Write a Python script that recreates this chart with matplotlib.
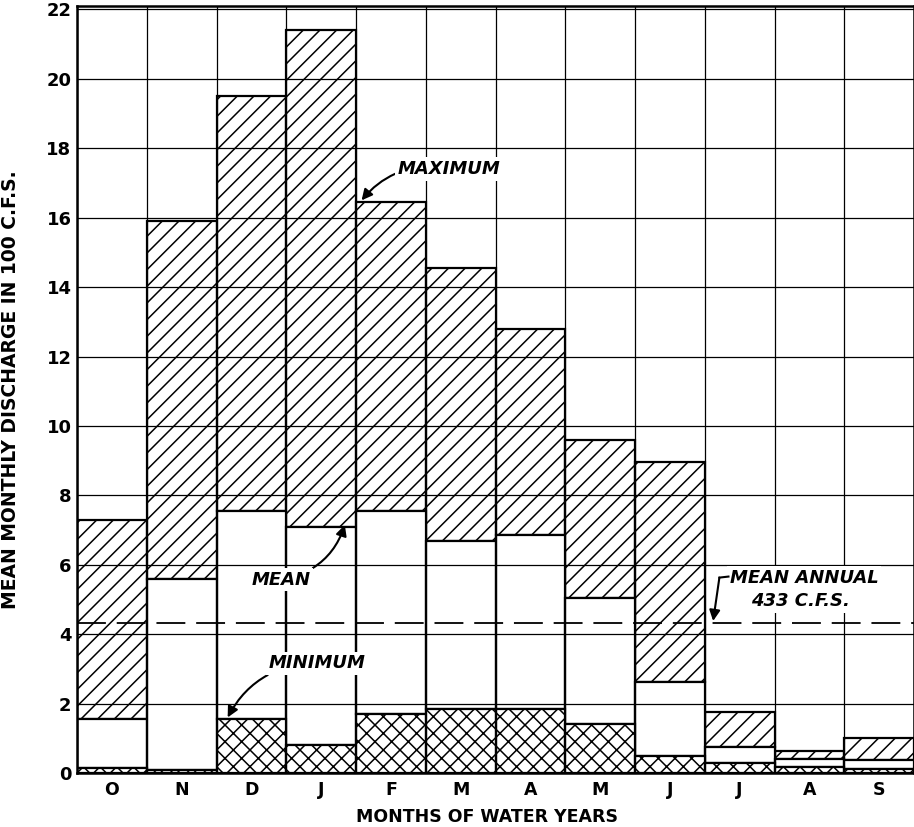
import numpy as np
import matplotlib
matplotlib.use("Agg")
import matplotlib.pyplot as plt

months = ["O", "N", "D", "J", "F", "M", "A", "M", "J", "J", "A", "S"]
max_flow = [7.3, 15.9, 19.5, 21.4, 16.45, 14.55, 12.8, 9.6, 8.95, 1.75, 0.62, 1.02]
mean_flow = [1.55, 5.6, 7.55, 7.1, 7.55, 6.68, 6.85, 5.05, 2.62, 0.75, 0.4, 0.38]
min_flow = [0.15, 0.1, 1.55, 0.8, 1.7, 1.85, 1.85, 1.42, 0.5, 0.28, 0.18, 0.12]
mean_annual = 4.33

plt.rcParams['hatch.linewidth'] = 1.1
plt.rcParams['font.family'] = ['DejaVu Sans']

fig = plt.figure(figsize=(9.14, 8.27), dpi=100)
ax = fig.add_axes([77/914, 1-773/827, 1-77/914, (773-6)/827])

x = np.arange(len(months)) + 0.5
mx = np.array(max_flow)
mn = np.array(mean_flow)
lo = np.array(min_flow)

# maximum part (mean -> max), hatched
ax.bar(x, mx - mn, bottom=mn, width=1.0, facecolor='white', edgecolor='black',
       hatch='//', linewidth=1.6, zorder=2)
# mean part (min -> mean), plain
ax.bar(x, mn - lo, bottom=lo, width=1.0, facecolor='white', edgecolor='black',
       linewidth=1.6, zorder=2)
# minimum part, cross hatched
ax.bar(x, lo, width=1.0, facecolor='white', edgecolor='black',
       hatch='xx', linewidth=1.6, zorder=2)

ax.axhline(mean_annual, color='black', lw=1.3, dashes=(16, 6), zorder=4)

ax.set_xlim(0, 12)
ax.set_ylim(0, 22.1)
ax.set_xticks(np.arange(13), minor=False)
ax.set_xticks(x, minor=True)
ax.set_xticklabels([])
ax.set_xticklabels(months, minor=True, fontweight='bold')
ax.set_yticks(range(0, 23, 2))
ax.set_yticklabels([str(v) for v in range(0, 23, 2)], fontweight='bold')
ax.tick_params(axis='both', which='both', length=0, labelsize=13)
ax.tick_params(axis='x', which='minor', pad=6, labelsize=12.5)
ax.tick_params(axis='y', pad=4)
ax.grid(True, which='major', color='black', lw=0.9)
ax.set_axisbelow(False)
for s in ax.spines.values():
    s.set_linewidth(1.8)

ax.set_ylabel('MEAN MONTHLY DISCHARGE IN 100 C.F.S.', fontsize=13.5, fontweight='bold')
ax.yaxis.set_label_coords(-0.068, 0.5)
ax.set_xlabel('MONTHS OF WATER YEARS', fontsize=12.5, fontweight='bold', va='center')
ax.xaxis.set_label_coords(0.49, -0.057)

lab = dict(fontsize=13, fontstyle='italic', fontweight='bold', va='center', zorder=5,
           bbox=dict(facecolor='white', edgecolor='none', pad=2))
arw = dict(arrowstyle='-|>', color='black', lw=1.5, mutation_scale=16,
           connectionstyle='arc3,rad=0.3', shrinkA=0, shrinkB=0)

ax.annotate('MAXIMUM', xy=(4.08, 16.5), xytext=(4.6, 17.4), ha='left',
            arrowprops=arw, **lab)
ax.annotate('MEAN', xy=(3.84, 7.15), xytext=(3.35, 5.57), ha='right',
            arrowprops=arw, **lab)
ax.annotate('MINIMUM', xy=(2.16, 1.6), xytext=(2.75, 3.16), ha='left',
            arrowprops=arw, **lab)

ax.text(9.36, 5.63, 'MEAN ANNUAL', ha='left', **lab)
ax.text(9.67, 4.95, '433 C.F.S.', ha='left', **lab)
ax.plot([9.21, 9.34], [5.63, 5.66], color='black', lw=1.5, zorder=6)
ax.annotate('', xy=(9.12, 4.38), xytext=(9.21, 5.63),
            arrowprops=dict(arrowstyle='-|>', color='black', lw=1.5,
                            mutation_scale=16, shrinkA=0, shrinkB=0), zorder=6)

fig.set_facecolor('white')
fig.savefig('out.png', dpi=100)
